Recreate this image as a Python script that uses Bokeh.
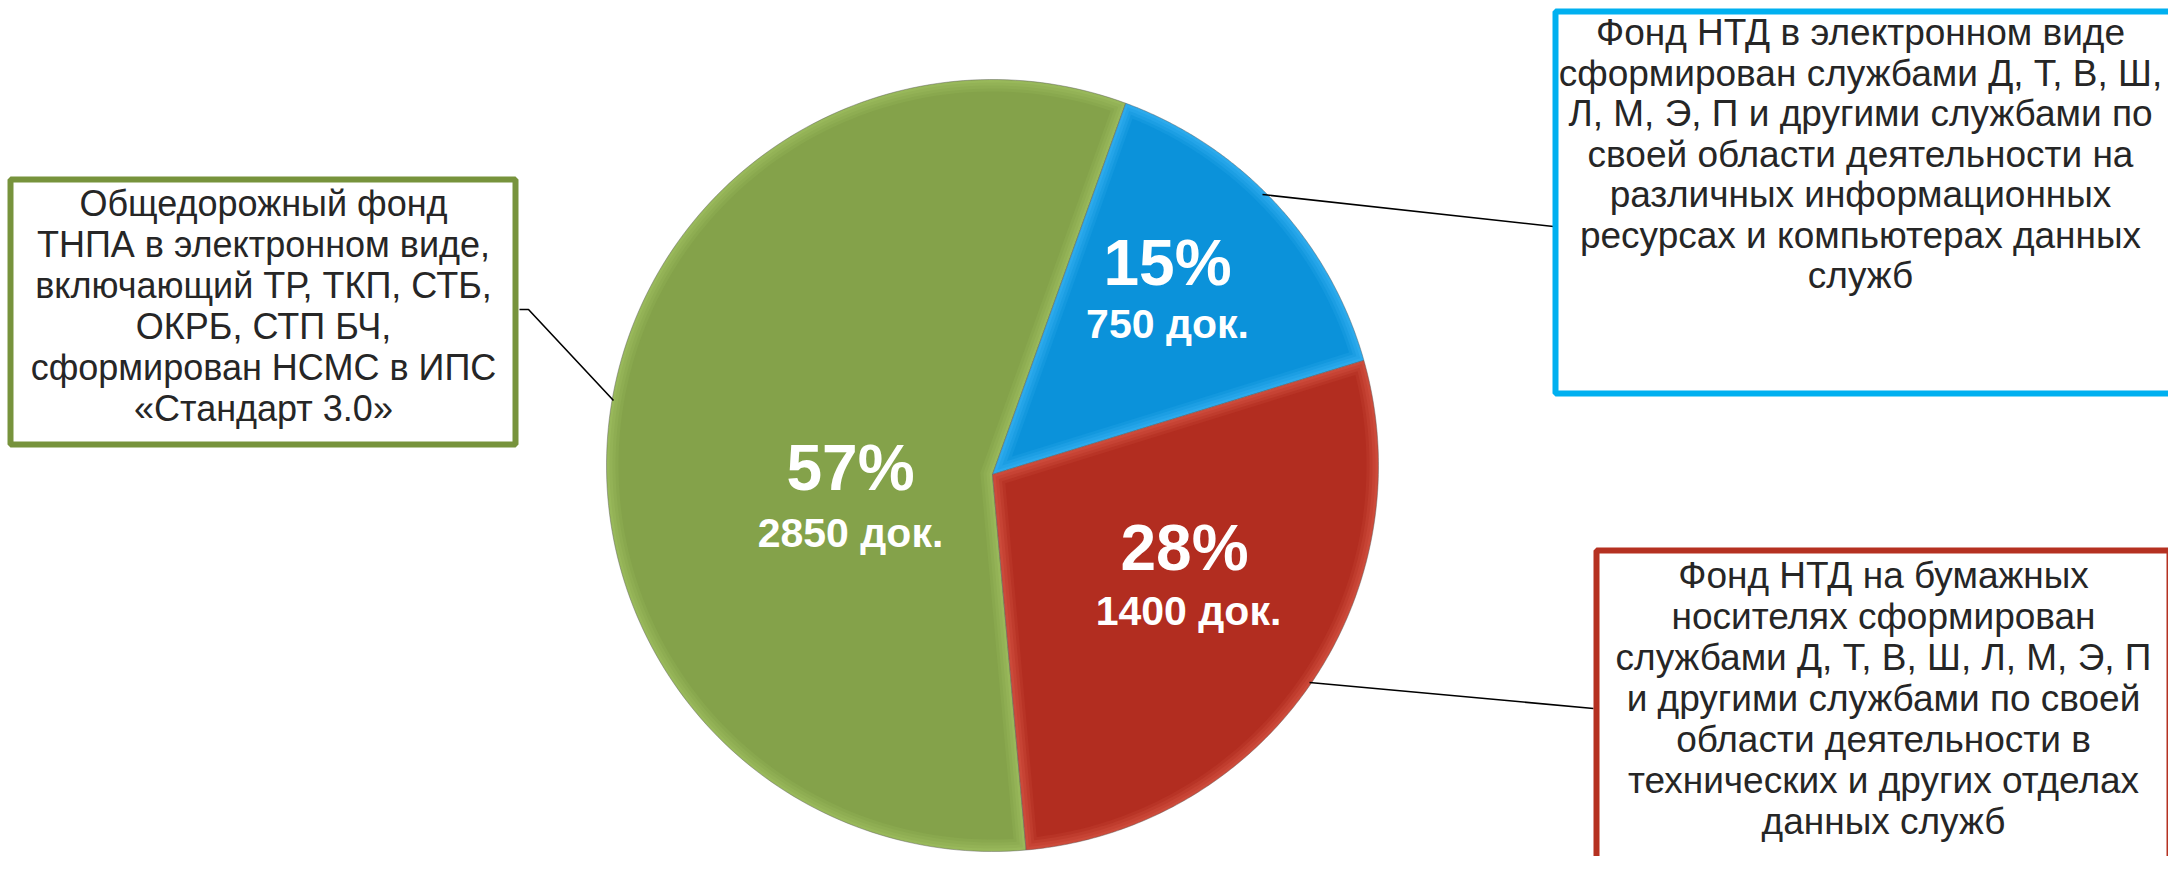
import math
import numpy as np
from bokeh.plotting import figure
from bokeh.models import Range1d
from bokeh.core.properties import value
from bokeh.embed import file_html
from bokeh.resources import INLINE

# ---- data ----
categories = ["Общедорожный фонд ТНПА", "Фонд НТД на бумажных носителях", "Фонд НТД в электронном виде"]
docs = [2850, 1400, 750]
pct_labels = ["57%", "28%", "15%"]
doc_labels = ["2850 док.", "1400 док.", "750 док."]
slice_colors = ["#84A24A", "#B22D20", "#0B92DA"]
edge_colors = ["#98B85A", "#CC4A3A", "#2CAAEC"]

green_text = ["Общедорожный фонд", "ТНПА в электронном виде,", "включающий ТР, ТКП, СТБ,",
              "ОКРБ, СТП БЧ,", "сформирован НСМС в ИПС", "«Стандарт 3.0»"]
blue_text = ["Фонд НТД в электронном виде", "сформирован службами Д, Т, В, Ш,",
             "Л, М, Э, П и другими службами по", "своей области деятельности на",
             "различных информационных", "ресурсах и компьютерах данных", "служб"]
red_text = ["Фонд НТД на бумажных", "носителях сформирован", "службами Д, Т, В, Ш, Л, М, Э, П",
            "и другими службами по своей", "области деятельности в",
            "технических и других отделах", "данных служб"]

W, H = 2168, 856

def X(px):
    return px

def Y(py):
    return H - py

p = figure(width=W, height=H, output_backend="svg", toolbar_location=None,
           x_range=Range1d(0, W), y_range=Range1d(0, H), min_border=0)
p.axis.visible = False
p.grid.visible = False
p.outline_line_color = None
p.background_fill_color = "white"
p.border_fill_color = "white"

# ---- pie (apex a little below the rim centre, as in the picture) ----
rcx, rcy, R = 992, 465, 386
vx, vy = 992, 474
start_cw = 175.0
total = float(sum(docs))
order = [0, 2, 1]  # clockwise: green, blue, red


def hex2rgb(h):
    return tuple(int(h[k:k + 2], 16) for k in (1, 3, 5))


def mix(c1, c2, t):
    a, b = hex2rgb(c1), hex2rgb(c2)
    return "#%02x%02x%02x" % tuple(int(round(a[k] + (b[k] - a[k]) * t)) for k in range(3))


def slice_poly(t1, t2, inset):
    span = math.radians(t2 - t1)
    d_ang = math.degrees(inset / R)
    a = np.radians(np.linspace(t1 + d_ang, t2 - d_ang, 160))
    rr = R - inset
    xs = rcx + rr * np.sin(a)
    ys = rcy - rr * np.cos(a)
    mid = math.radians((t1 + t2) / 2)
    k = inset / max(math.sin(span / 2), 0.3)
    ax_ = vx + k * math.sin(mid)
    ay_ = vy - k * math.cos(mid)
    px_ = [X(ax_)] + [X(v) for v in xs]
    py_ = [Y(ay_)] + [Y(v) for v in ys]
    return px_, py_


insets = [0, 3, 6, 9, 12]
theta = start_cw
for i in order:
    span = docs[i] / total * 360.0
    t1, t2 = theta, theta + span
    for n, d in enumerate(insets):
        col = mix(edge_colors[i], slice_colors[i], n / (len(insets) - 1))
        xs_, ys_ = slice_poly(t1, t2, d)
        if n == 0:
            p.patch(xs_, ys_, fill_color=col, line_color="#5a5a5a", line_width=1, line_alpha=0.45)
        else:
            p.patch(xs_, ys_, fill_color=col, line_color=None)
    theta = t2

# ---- percentage labels ----
pct_pos = {0: (850, 467), 1: (1184, 547), 2: (1167, 262)}
doc_pos = {0: (850, 532), 1: (1188, 610), 2: (1167, 323)}
for i in range(3):
    px_, py_ = pct_pos[i]
    p.text(x=[X(px_)], y=[Y(py_)], text=[pct_labels[i]], text_align="center",
           text_baseline="middle", text_font=value("Liberation Sans"),
           text_font_style="bold", text_font_size="64px", text_color="white")
    dx_, dy_ = doc_pos[i]
    p.text(x=[X(dx_)], y=[Y(dy_)], text=[doc_labels[i]], text_align="center",
           text_baseline="middle", text_font=value("Liberation Sans"),
           text_font_style="bold", text_font_size="41px", text_color="white")

# ---- leader lines ----
p.line(x=[X(519), X(528), X(613)], y=[Y(309), Y(309), Y(400)], line_color="black", line_width=1.6)
p.line(x=[X(1262), X(1553)], y=[Y(194), Y(226)], line_color="black", line_width=1.6)
p.line(x=[X(1309), X(1593)], y=[Y(682), Y(708)], line_color="black", line_width=1.6)

# ---- callout boxes ----
def box(l, t, r, b, color):
    p.quad(left=X(l), right=X(r), top=Y(t), bottom=Y(b), fill_color="white",
           line_color=color, line_width=6)

box(10, 179, 515, 444, "#77933C")
box(1555, 11, 2200, 393, "#00B0F0")
box(1596, 550, 2169, 900, "#B53121")

def block(lines, cxp, y0, step, size):
    xs = [X(cxp)] * len(lines)
    ys = [Y(y0 + k * step) for k in range(len(lines))]
    p.text(x=xs, y=ys, text=lines, text_align="center", text_baseline="middle",
           text_font=value("Liberation Sans"), text_font_size=size, text_color="#262626")

block(green_text, 263, 203, 41, "36px")
block(blue_text, 1860, 32, 40.5, "37px")
block(red_text, 1883, 575, 41, "37px")

open("out.html", "w").write(file_html(p, INLINE))
